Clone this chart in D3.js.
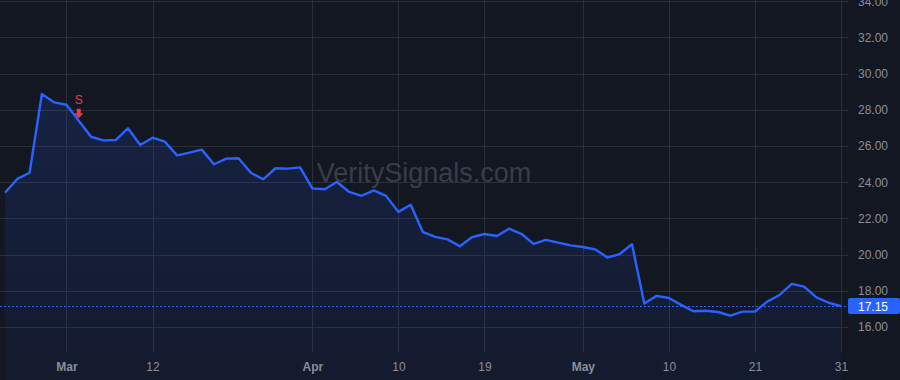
<!DOCTYPE html>
<html lang="en">
    <head>
        <meta charset="utf-8">
        <title>VeritySignals price chart</title>
        <script type="text/javascript" src="https://d3js.org/d3.v7.min.js"></script>
        <style type="text/css">
            body {
              margin: 0;
              background: #131722;
            }
            svg text {
              font-family: "Liberation Sans", "Arial", sans-serif;
            }
        </style>
    </head>
    <body>
        <script type="text/javascript">

        const width = 900;
        const height = 380;
        const plotRight = 848;
        const plotBottom = 352;

        //Data
        const dates = [
            "2024-02-23", "2024-02-26", "2024-02-27", "2024-02-28", "2024-02-29",
            "2024-03-01", "2024-03-04", "2024-03-05", "2024-03-06", "2024-03-07", "2024-03-08",
            "2024-03-11", "2024-03-12", "2024-03-13", "2024-03-14", "2024-03-15",
            "2024-03-18", "2024-03-19", "2024-03-20", "2024-03-21", "2024-03-22",
            "2024-03-25", "2024-03-26", "2024-03-27", "2024-03-28",
            "2024-04-01", "2024-04-02", "2024-04-03", "2024-04-04", "2024-04-05",
            "2024-04-08", "2024-04-09", "2024-04-10", "2024-04-11", "2024-04-12",
            "2024-04-15", "2024-04-16", "2024-04-17", "2024-04-18", "2024-04-19",
            "2024-04-22", "2024-04-23", "2024-04-24", "2024-04-25", "2024-04-26",
            "2024-04-29", "2024-04-30", "2024-05-01", "2024-05-02", "2024-05-03",
            "2024-05-06", "2024-05-07", "2024-05-08", "2024-05-09", "2024-05-10",
            "2024-05-13", "2024-05-14", "2024-05-15", "2024-05-16", "2024-05-17",
            "2024-05-20", "2024-05-21", "2024-05-22", "2024-05-23", "2024-05-24",
            "2024-05-28", "2024-05-29", "2024-05-30", "2024-05-31"
        ];

        const prices = [
            23.42, 24.18, 24.52, 28.87, 28.41,
            28.28, 27.40, 26.51, 26.31, 26.33, 26.98,
            26.06, 26.46, 26.24, 25.48, 25.63,
            25.80, 24.99, 25.30, 25.32, 24.52,
            24.16, 24.77, 24.75, 24.82,
            23.66, 23.61, 24.01, 23.46, 23.25,
            23.55, 23.24, 22.36, 22.75, 21.24,
            20.98, 20.84, 20.46, 20.97, 21.14,
            21.03, 21.43, 21.15, 20.59, 20.81,
            20.66, 20.51, 20.42, 20.29, 19.84,
            20.03, 20.57, 17.30, 17.72, 17.60,
            17.22, 16.87, 16.90, 16.83, 16.63,
            16.85, 16.85, 17.40, 17.77, 18.38,
            18.23, 17.64, 17.34, 17.15
        ];

        const xTickDates = ["2024-03-01", "2024-03-12", "2024-04-01", "2024-04-10", "2024-04-19",
                            "2024-05-01", "2024-05-10", "2024-05-21", "2024-05-31"];
        const xTickLabels = ["Mar", "12", "Apr", "10", "19", "May", "10", "21", "31"];
        const yTicks = [16, 18, 20, 22, 24, 26, 28, 30, 32, 34];

        const signalDate = "2024-03-04";
        const signalLabel = "S";
        const lastPrice = 17.15;

        const dataset = dates.map((d, i) => ({ date: d, price: prices[i] }));

        //Scales
        const xScale = d3.scalePoint()
                        .domain(dates)
                        .range([5, 841]);

        const yScale = d3.scaleLinear()
                        .domain([16, 34])
                        .range([327, 1.2]);

        //SVG
        const svg = d3.select("body")
                    .append("svg")
                    .attr("width", width)
                    .attr("height", height)
                    .style("display", "block");

        svg.append("rect")
            .attr("width", width)
            .attr("height", height)
            .attr("fill", "#131722");

        const defs = svg.append("defs");
        const grad = defs.append("linearGradient")
            .attr("id", "areaFill")
            .attr("x1", 0).attr("y1", 0)
            .attr("x2", 0).attr("y2", 1);
        grad.append("stop").attr("offset", "0%").attr("stop-color", "#2962ff").attr("stop-opacity", 0.15);
        grad.append("stop").attr("offset", "100%").attr("stop-color", "#2962ff").attr("stop-opacity", 0.05);

        //Grid
        svg.append("g")
            .selectAll("line")
            .data(yTicks)
            .enter()
            .append("line")
            .attr("x1", 0)
            .attr("x2", plotRight)
            .attr("y1", d => Math.round(yScale(d)) + 0.5)
            .attr("y2", d => Math.round(yScale(d)) + 0.5)
            .attr("stroke", "#2a2e39");

        svg.append("g")
            .selectAll("line")
            .data(xTickDates)
            .enter()
            .append("line")
            .attr("x1", d => Math.round(xScale(d)) + 0.5)
            .attr("x2", d => Math.round(xScale(d)) + 0.5)
            .attr("y1", 0)
            .attr("y2", plotBottom)
            .attr("stroke", "#2a2e39");

        //Watermark
        svg.append("text")
            .attr("x", 424)
            .attr("y", 182)
            .attr("text-anchor", "middle")
            .attr("font-size", 27)
            .attr("fill", "#393d48")
            .text("VeritySignals.com");

        //Area + line
        const area = d3.area()
            .x(d => xScale(d.date))
            .y0(height)
            .y1(d => yScale(d.price));

        const line = d3.line()
            .x(d => xScale(d.date))
            .y(d => yScale(d.price));

        svg.append("path")
            .datum(dataset)
            .attr("d", area)
            .attr("fill", "url(#areaFill)");

        svg.append("path")
            .datum(dataset)
            .attr("d", line)
            .attr("fill", "none")
            .attr("stroke", "#2962ff")
            .attr("stroke-width", 2.4)
            .attr("stroke-linejoin", "round");

        //Last price line
        svg.append("line")
            .attr("x1", 0)
            .attr("x2", plotRight)
            .attr("y1", Math.round(yScale(lastPrice)) + 0.5)
            .attr("y2", Math.round(yScale(lastPrice)) + 0.5)
            .attr("stroke", "#2962ff")
            .attr("stroke-dasharray", "2,2");

        //Signal marker
        const sx = xScale(signalDate);
        const sy = yScale(prices[dates.indexOf(signalDate)]);
        svg.append("text")
            .attr("x", sx)
            .attr("y", sy - 16.5)
            .attr("text-anchor", "middle")
            .attr("font-size", 12)
            .attr("fill", "#f23645")
            .text(signalLabel);
        svg.append("path")
            .attr("d", `M${sx - 2},${sy - 12} h4 v4.5 h2.5 l-4.5,5 l-4.5,-5 h2.5 z`)
            .attr("fill", "#f23645");

        //Axes
        const rightAxis = d3.axisRight(yScale)
            .tickValues(yTicks)
            .tickSize(0)
            .tickPadding(10)
            .tickFormat(d3.format(".2f"));

        const yAxisG = svg.append("g")
            .attr("transform", "translate(" + plotRight + ",0)")
            .call(rightAxis);
        yAxisG.select(".domain").remove();
        yAxisG.selectAll("text")
            .attr("font-size", 12)
            .attr("font-family", "Liberation Sans, Arial, sans-serif")
            .attr("fill", "#8a8e99");

        const bottomAxis = d3.axisBottom(xScale)
            .tickValues(xTickDates)
            .tickSize(0)
            .tickPadding(10)
            .tickFormat((d, i) => xTickLabels[i]);

        const xAxisG = svg.append("g")
            .attr("transform", "translate(0," + plotBottom + ")")
            .call(bottomAxis);
        xAxisG.select(".domain").remove();
        xAxisG.selectAll("text")
            .attr("font-size", 12)
            .attr("font-family", "Liberation Sans, Arial, sans-serif")
            .attr("fill", "#8a8e99")
            .attr("font-weight", (d, i) => isNaN(+xTickLabels[i]) ? "bold" : "normal");

        //Last price label
        const ly = yScale(lastPrice);
        svg.append("rect")
            .attr("x", plotRight)
            .attr("y", Math.round(ly) - 8)
            .attr("width", width - plotRight)
            .attr("height", 16)
            .attr("rx", 2)
            .attr("fill", "#2962ff");
        svg.append("text")
            .attr("x", plotRight + 10)
            .attr("y", ly + 4.5)
            .attr("font-size", 12)
            .attr("fill", "#ffffff")
            .text(d3.format(".2f")(lastPrice));

        </script>
    </body>
</html>
